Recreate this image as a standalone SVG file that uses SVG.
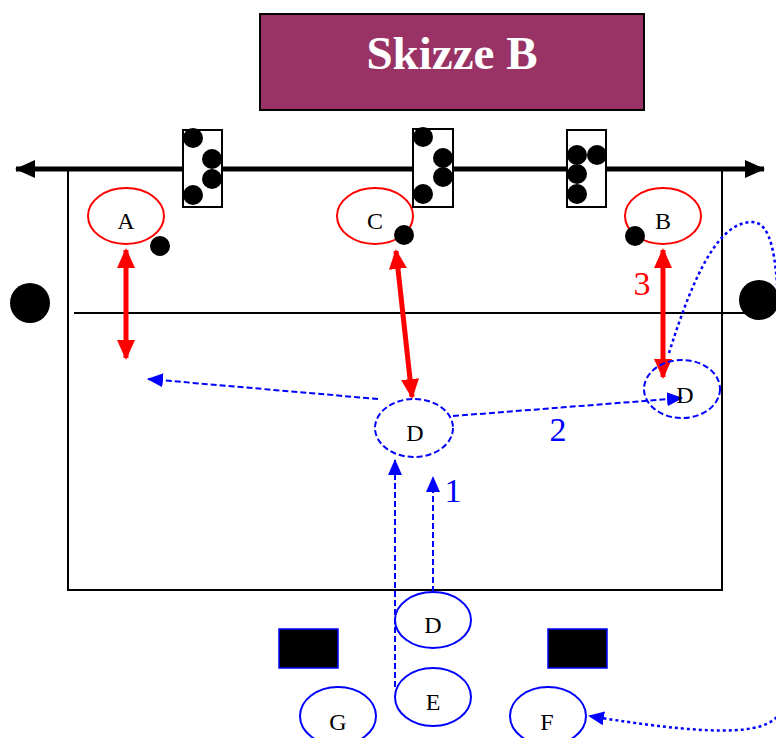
<svg xmlns="http://www.w3.org/2000/svg" width="776" height="738" viewBox="0 0 776 738">
<style>
.lbl{font-family:"Liberation Serif",serif;font-size:24px;fill:#000;text-anchor:middle}
.num{font-family:"Liberation Serif",serif;font-size:34px;text-anchor:middle}
.red{fill:none;stroke:#ff0000;stroke-width:2}
.bsol{fill:none;stroke:#0000ff;stroke-width:2}
.bdash{fill:none;stroke:#0000ff;stroke-width:2;stroke-dasharray:6 3}
.dot{fill:#000}
.box{fill:#fff;stroke:#000;stroke-width:2}
.rarr{stroke:#ff0000;stroke-width:5;fill:none}
.barr{stroke:#0000ff;stroke-width:2;fill:none;stroke-dasharray:6 3}
.bdot{stroke:#0000ff;stroke-width:2.5;fill:none;stroke-dasharray:3 3}
</style>
<defs>
<marker id="rh" markerUnits="userSpaceOnUse" markerWidth="20" markerHeight="20" viewBox="0 0 20 20" refX="18" refY="10" orient="auto-start-reverse">
<path d="M0,1 L20,10 L0,19 Z" fill="#ff0000"/>
</marker>
<marker id="bh" markerUnits="userSpaceOnUse" markerWidth="16" markerHeight="16" viewBox="0 0 16 16" refX="15" refY="8" orient="auto">
<path d="M0,1 L16,8 L0,15 Z" fill="#0000ff"/>
</marker>
<marker id="kh" markerUnits="userSpaceOnUse" markerWidth="20" markerHeight="20" viewBox="0 0 20 20" refX="19" refY="10" orient="auto-start-reverse">
<path d="M0,1 L20,10 L0,19 Z" fill="#000"/>
</marker>
</defs>

<g id="title">
<rect x="260" y="14" width="384" height="96" fill="#993366" stroke="#000" stroke-width="2"/>
<text x="452" y="69" font-family="Liberation Serif,serif" font-size="47" font-weight="bold" fill="#fff" text-anchor="middle">Skizze B</text>
</g>

<g id="court">
<rect x="68" y="169" width="654" height="421" fill="none" stroke="#000" stroke-width="2"/>
<line x1="74" y1="313" x2="760" y2="313" stroke="#000" stroke-width="2"/>
<line x1="16" y1="169" x2="764" y2="169" stroke="#000" stroke-width="5" marker-start="url(#kh)" marker-end="url(#kh)"/>
<circle cx="30" cy="303" r="20" class="dot"/>
<circle cx="759" cy="300" r="20" class="dot"/>
</g>

<g id="block1">
<rect x="183" y="130" width="39" height="77" class="box"/>
<circle cx="193" cy="138" r="10" class="dot"/>
<circle cx="212" cy="159" r="10" class="dot"/>
<circle cx="212" cy="179" r="10" class="dot"/>
<circle cx="193" cy="195" r="10" class="dot"/>
</g>
<g id="block2">
<rect x="413" y="129" width="40" height="78" class="box"/>
<circle cx="423" cy="137" r="10" class="dot"/>
<circle cx="443" cy="158" r="10" class="dot"/>
<circle cx="443" cy="177" r="10" class="dot"/>
<circle cx="423" cy="194" r="10" class="dot"/>
</g>
<g id="block3">
<rect x="567" y="130" width="39" height="77" class="box"/>
<circle cx="577" cy="155" r="10" class="dot"/>
<circle cx="597" cy="155" r="10" class="dot"/>
<circle cx="577" cy="174" r="10" class="dot"/>
<circle cx="577" cy="194" r="10" class="dot"/>
</g>

<g id="connectors">
<line x1="126" y1="250" x2="126" y2="358" class="rarr" marker-start="url(#rh)" marker-end="url(#rh)"/>
<line x1="396" y1="251" x2="412" y2="397" class="rarr" marker-start="url(#rh)" marker-end="url(#rh)"/>
<line x1="663" y1="250" x2="663" y2="377" class="rarr" marker-start="url(#rh)" marker-end="url(#rh)"/>
<line x1="378" y1="399" x2="148" y2="379" class="barr" marker-end="url(#bh)"/>
<line x1="453" y1="416" x2="682" y2="398" class="barr" marker-end="url(#bh)"/>
<line x1="433" y1="592" x2="433" y2="477" class="barr" marker-end="url(#bh)"/>
<line x1="395" y1="687" x2="395" y2="460" class="barr" marker-end="url(#bh)"/>
<path d="M669,353 C695,270 720,222 752,222 C772,222 776,260 778,300" class="bdot"/>
<path d="M780,712 C768,738 700,734 589,716" class="bdot" marker-end="url(#bh)"/>
</g>

<g id="A">
<ellipse cx="126" cy="216" rx="38" ry="28" class="red"/>
<text x="126" y="229" class="lbl">A</text>
<circle cx="160" cy="246" r="10" class="dot"/>
</g>
<g id="C">
<ellipse cx="375" cy="216" rx="38" ry="28" class="red"/>
<text x="375" y="229" class="lbl">C</text>
<circle cx="404" cy="235" r="10" class="dot"/>
</g>
<g id="B">
<ellipse cx="663" cy="216" rx="38" ry="28" class="red"/>
<text x="663" y="229" class="lbl">B</text>
<circle cx="635" cy="236" r="10" class="dot"/>
</g>

<g id="D-right">
<ellipse cx="682" cy="389" rx="38" ry="29" class="bdash"/>
<text x="685" y="403" class="lbl">D</text>
</g>
<g id="D-center">
<ellipse cx="414" cy="428" rx="39" ry="29" class="bdash"/>
<text x="415" y="441" class="lbl">D</text>
</g>

<g id="labels">
<text x="642" y="295" class="num" fill="#ff0000">3</text>
<text x="558" y="441" class="num" fill="#0000ff">2</text>
<text x="453" y="502" class="num" fill="#0000ff">1</text>
</g>

<g id="D-bottom">
<ellipse cx="433" cy="620" rx="38" ry="28" class="bsol"/>
<text x="433" y="633" class="lbl">D</text>
</g>
<g id="E">
<ellipse cx="433" cy="697" rx="38" ry="29" class="bsol"/>
<text x="433" y="710" class="lbl">E</text>
</g>
<g id="G">
<ellipse cx="338" cy="716" rx="38" ry="29" class="bsol"/>
<text x="338" y="730" class="lbl">G</text>
</g>
<g id="F">
<ellipse cx="548" cy="716" rx="38" ry="29" class="bsol"/>
<text x="547" y="730" class="lbl">F</text>
</g>

<g id="goal-left">
<rect x="279" y="629" width="59" height="39" fill="#000" stroke="#0000ff" stroke-width="1.5"/>
</g>
<g id="goal-right">
<rect x="548" y="629" width="59" height="39" fill="#000" stroke="#0000ff" stroke-width="1.5"/>
</g>
</svg>
